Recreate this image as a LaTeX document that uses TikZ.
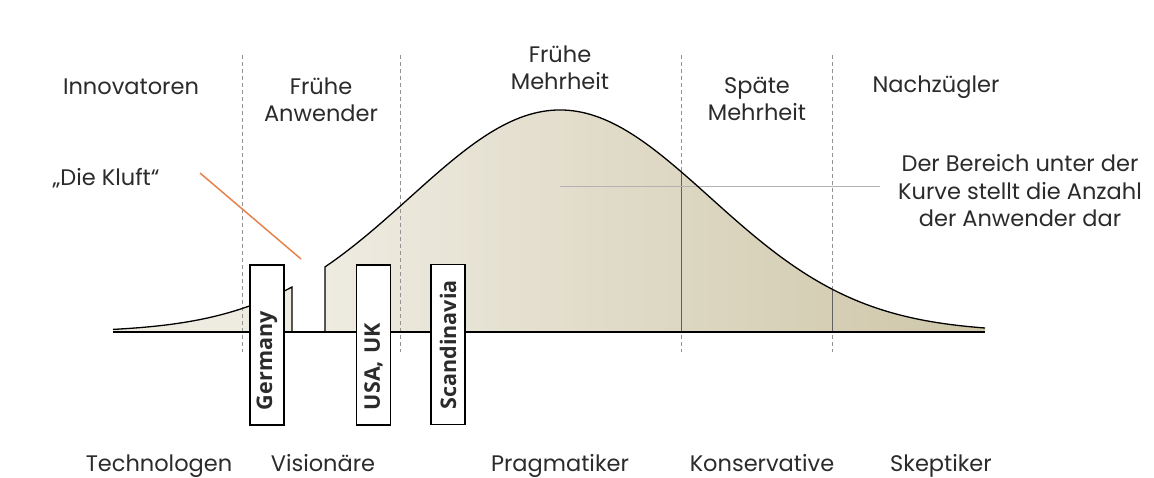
\documentclass[tikz,border=0pt]{standalone}
\usepackage{fontspec}
\setmainfont{Poppins}
\newfontfamily\boxfont{Open Sans}
\definecolor{txt}{HTML}{2B2B2B}
\definecolor{fillL}{HTML}{EEEBE1}
\definecolor{fillR}{HTML}{CEC6A8}
\definecolor{kluft}{HTML}{E5834C}
\begin{document}
\begin{tikzpicture}[x=1pt,y=-1pt,
  font=\fontsize{22.5}{27.5}\selectfont,
  lbl/.style={text=txt, align=center, inner sep=0pt},
  sl/.style={lbl, text height=16pt, text depth=5.5pt},
  country/.style={draw=black, line width=1.2pt, fill=white, rotate=90,
    minimum height=34pt, text width=130pt, inner xsep=15pt, inner ysep=0pt,
    align=left, text=txt, font=\boxfont\fontsize{21.5}{24}\selectfont\bfseries},
  divider/.style={draw=gray!85, line width=0.8pt, dash pattern=on 4pt off 3pt},
  curve/.style={draw=black, line width=1.3pt},
  pointer/.style={draw=gray!60, line width=0.9pt}]
\useasboundingbox (0,0) rectangle (1154,477);
\fill[white] (0,0) rectangle (1154,477);
% fills
\fill[fillL] (113,332) -- plot[domain=113:292, samples=60] (\x,{332-222*exp(-0.5*((\x-560)/150)^2)}) -- (292,332) -- cycle;
\shade[left color=fillL, right color=fillR] (325,332) -- plot[domain=325:985, samples=150] (\x,{332-222*exp(-0.5*((\x-560)/150)^2)}) -- (985,332) -- cycle;
% dividers
\foreach \d/\n in {242/d1,400/d2,681/d3,832/d4}{
  \coordinate (\n t) at (\d,55);
  \coordinate (\n b) at (\d,352);
  \draw[divider] (\n t) -- (\n b);
}
\coordinate (d3c) at (681,{332-222*exp(-0.5*((681-560)/150)^2)});
\coordinate (d4c) at (832,{332-222*exp(-0.5*((832-560)/150)^2)});
\draw[gray!75!black, line width=0.8pt] (681,332) -- (d3c);
\draw[gray!75!black, line width=0.8pt] (832,332) -- (d4c);
% pointer line
\coordinate (p1) at (560,186);
\coordinate (p2) at (880,186);
\draw[pointer] (p1) -- (p2);
% curves
\draw[curve] plot[domain=113:292, samples=60] (\x,{332-222*exp(-0.5*((\x-560)/150)^2)}) -- (292,332);
\draw[curve] (325,332) -- plot[domain=325:985, samples=150] (\x,{332-222*exp(-0.5*((\x-560)/150)^2)});
% baseline
\coordinate (b0) at (113,332);
\coordinate (b1) at (985,332);
\draw[line width=1.8pt] (b0) -- (b1);
% gap marker
\coordinate (k1) at (200,173);
\coordinate (k2) at (301,259);
\draw[kluft, line width=1.5pt] (k1) -- (k2);
% country boxes
\node[country] (ger) at (267,345) {Germany};
\node[country] (usa) at (373.5,345) {USA, UK};
\node[country] (sca) at (448,344.5) {Scandinavia};
% top labels
\node[sl] (innov) at (131,88.75) {Innovatoren};
\node[lbl] (fa) at (321,100) {Frühe\\Anwender};
\node[lbl] (fm) at (560,68) {Frühe\\Mehrheit};
\node[lbl] (sm) at (757,99) {Späte\\Mehrheit};
\node[sl] (nz) at (936,86.75) {Nachzügler};
\node[lbl] (area) at (1020,191) {Der Bereich unter der\\Kurve stellt die Anzahl\\der Anwender dar};
\node[sl] (kl) at (106,179.75) {„Die Kluft“};
% bottom labels
\node[sl] (tech) at (159,465.75) {Technologen};
\node[sl] (vis) at (323,465.75) {Visionäre};
\node[sl] (prag) at (560,465.75) {Pragmatiker};
\node[sl] (kons) at (762,465.75) {Konservative};
\node[sl] (skep) at (941,465.75) {Skeptiker};
\end{tikzpicture}
\end{document}
